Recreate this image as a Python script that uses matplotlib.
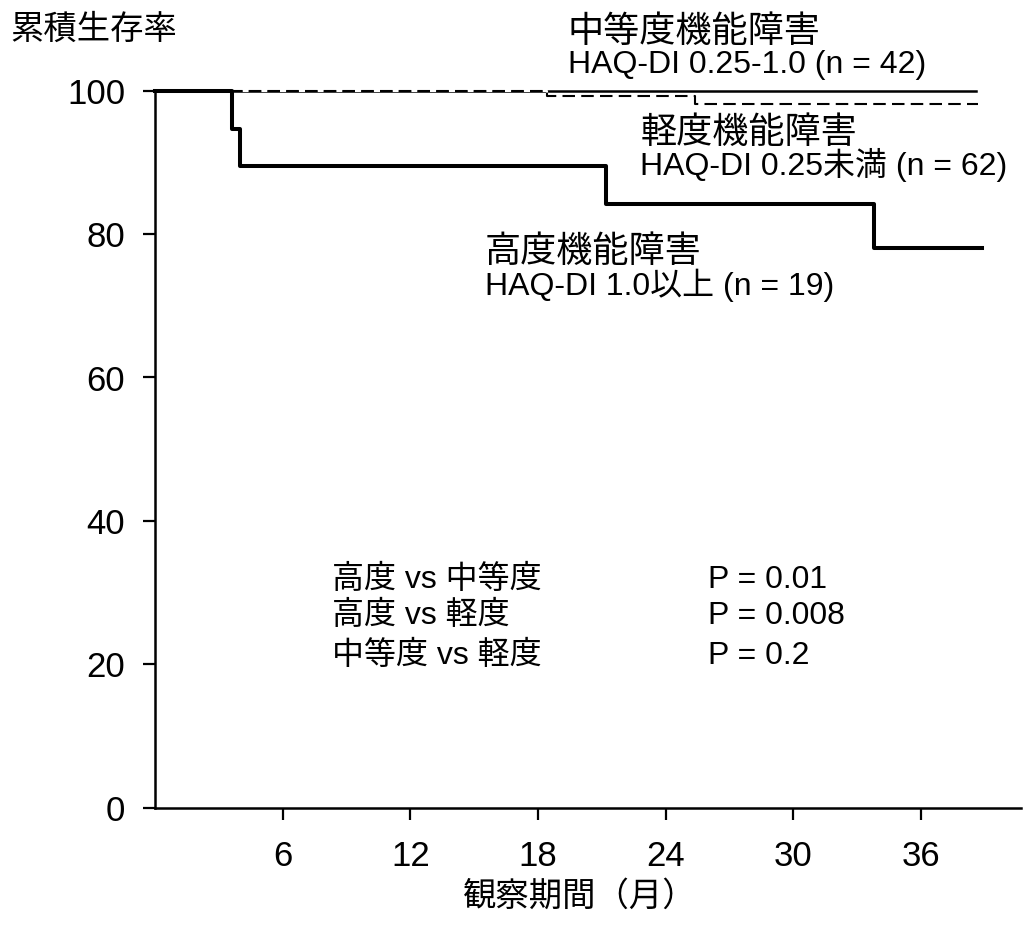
import matplotlib
matplotlib.use("Agg")
import matplotlib.pyplot as plt

plt.rcParams['font.family'] = ['Liberation Sans', 'Noto Sans CJK JP', 'DejaVu Sans']

# Data (months, cumulative survival %)
high_t = [0, 3.6, 4.0, 21.2, 33.8, 38.85]
high_s = [100, 94.7, 89.5, 84.2, 78.0, 78.0]
mod_t = [0, 38.6]
mod_s = [100, 100]
mild_t = [0, 18.4, 25.4, 38.7]
mild_s = [100, 99.2, 98.1, 98.1]

x_ticks = [6, 12, 18, 24, 30, 36]
y_ticks = [0, 20, 40, 60, 80, 100]

fig = plt.figure(figsize=(10.24, 9.3), dpi=100)
ax = fig.add_axes([155/1024, (930-807.7)/930, 866/1024, 717/930])

ax.step(mod_t, mod_s, where='post', color='black', lw=1.8, clip_on=False, zorder=2)
ax.step(mild_t, mild_s, where='post', color='black', lw=1.5, linestyle=(0, (6, 3)),
        gapcolor='white', clip_on=False, zorder=3)
ax.step(high_t, high_s, where='post', color='black', lw=2.9, clip_on=False, zorder=4)

ax.set_xlim(0, 40.7)
ax.set_ylim(0, 100)
ax.spines['top'].set_visible(False)
ax.spines['right'].set_visible(False)
for s in ['left', 'bottom']:
    ax.spines[s].set_linewidth(1.8)
ax.set_xticks(x_ticks)
ax.set_xticklabels([str(v) for v in x_ticks])
ax.set_yticks(y_ticks)
ax.set_yticklabels([str(v) for v in y_ticks])
ax.tick_params(axis='both', direction='out', length=8.5, width=1.6, labelsize=25)
ax.tick_params(axis='y', pad=13)
ax.tick_params(axis='x', pad=15)

fs = 23
fj = 26
kw = dict(va='center', ha='left', clip_on=False)
ax.text(19.4, 108.1, '中等度機能障害', fontsize=fj, **kw)
ax.text(19.4, 103.6, 'HAQ-DI 0.25-1.0 (n = 42)', fontsize=fs, **kw)
ax.text(22.8, 94.0, '軽度機能障害', fontsize=fj, **kw)
ax.text(22.8, 89.6, 'HAQ-DI 0.25未満 (n = 62)', fontsize=fs, **kw)
ax.text(15.5, 77.5, '高度機能障害', fontsize=fj, **kw)
ax.text(15.5, 72.8, 'HAQ-DI 1.0以上 (n = 19)', fontsize=fs, **kw)

ax.text(8.3, 31.7, '高度 vs 中等度', fontsize=fs, **kw)
ax.text(8.3, 26.7, '高度 vs 軽度', fontsize=fs, **kw)
ax.text(8.3, 21.1, '中等度 vs 軽度', fontsize=fs, **kw)
ax.text(26.0, 31.7, 'P = 0.01', fontsize=fs, **kw)
ax.text(26.0, 26.7, 'P = 0.008', fontsize=fs, **kw)
ax.text(26.0, 21.1, 'P = 0.2', fontsize=fs, **kw)

fig.text(10/1024, 1 - 30/930, '累積生存率', fontsize=24, va='center', ha='left')
fig.text(580/1024, 1 - 897/930, '観察期間（月）', fontsize=24, va='center', ha='center')

fig.savefig('out.png', dpi=100)
